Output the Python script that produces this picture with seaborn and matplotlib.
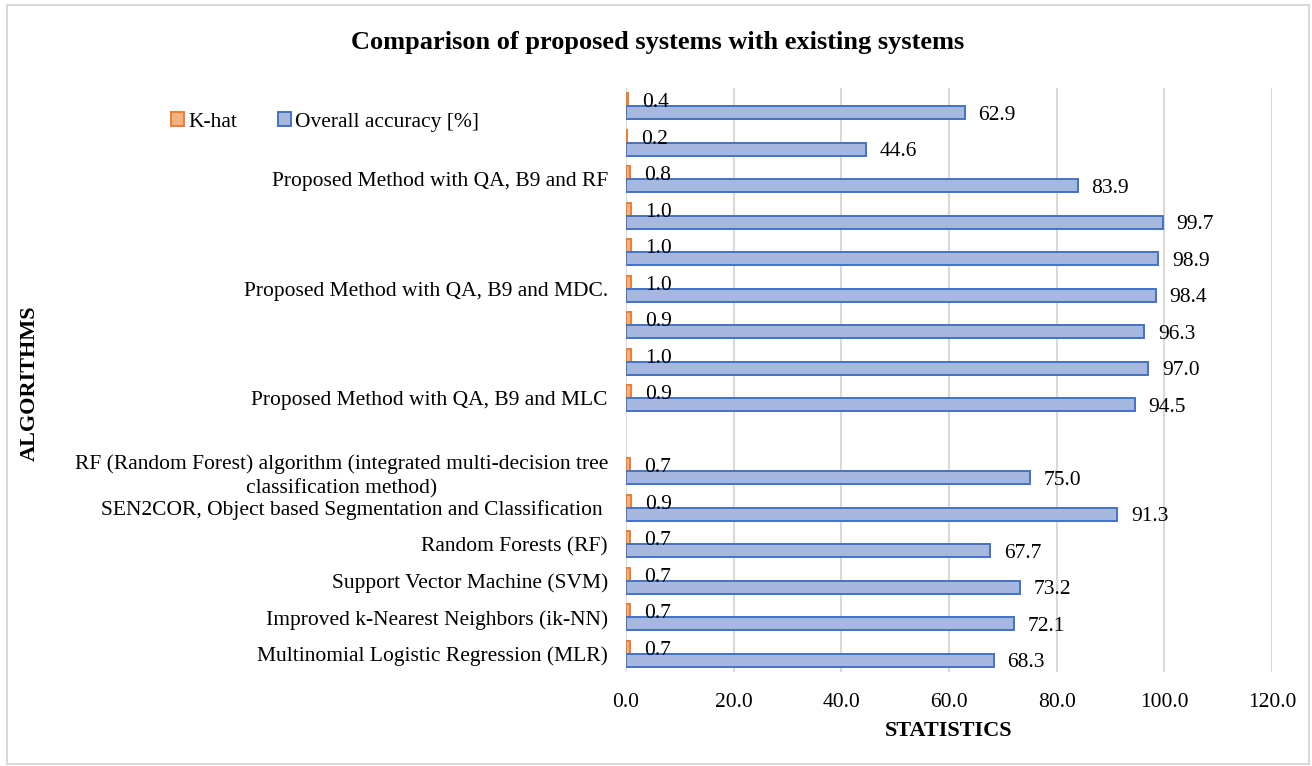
import matplotlib
matplotlib.use("Agg")
import matplotlib.pyplot as plt
import pandas as pd
import seaborn as sns
from matplotlib.patches import Patch, Rectangle

# Categories listed from top to bottom; empty strings are unlabeled rows
algorithms = [
    "",
    "",
    "Proposed Method with QA, B9 and RF",
    "",
    "",
    "Proposed Method with QA, B9 and MDC.",
    "",
    "",
    "Proposed Method with QA, B9 and MLC",
    "",
    "RF (Random Forest) algorithm (integrated multi-decision tree\nclassification method)",
    "SEN2COR, Object based Segmentation and Classification ",
    "Random Forests (RF)",
    "Support Vector Machine (SVM)",
    "Improved k-Nearest Neighbors (ik-NN)",
    "Multinomial Logistic Regression (MLR)",
]
k_hat = [0.4, 0.2, 0.8, 1.0, 1.0, 1.0, 0.9, 1.0, 0.9, None,
         0.7, 0.9, 0.7, 0.7, 0.7, 0.7]
overall_accuracy = [62.9, 44.6, 83.9, 99.7, 98.9, 98.4, 96.3, 97.0, 94.5, None,
                    75.0, 91.3, 67.7, 73.2, 72.1, 68.3]
series_names = ["K-hat", "Overall accuracy [%]"]
x_ticks = [0, 20, 40, 60, 80, 100, 120]

fill_colors = ["#F4B183", "#A7B8E0"]
edge_colors = ["#ED7D31", "#4472C4"]

row_keys = [f"row{i:02d}" for i in range(len(algorithms))]
records = []
for key, kh, oa in zip(row_keys, k_hat, overall_accuracy):
    if kh is not None:
        records.append({"row": key, "series": series_names[0], "value": kh})
    if oa is not None:
        records.append({"row": key, "series": series_names[1], "value": oa})
df = pd.DataFrame(records)

sns.set_theme(style="white")
plt.rcParams["font.family"] = ["Liberation Serif", "DejaVu Serif"]
plt.rcParams["text.color"] = "black"
plt.rcParams["xtick.color"] = "black"
plt.rcParams["ytick.color"] = "black"

FS = 15.5

fig = plt.figure(figsize=(13.12, 7.66), dpi=100)
ax = fig.add_axes([626 / 1312, 1 - 672 / 766, (1272 - 626) / 1312, (672 - 88) / 766])

sns.barplot(
    data=df, y="row", x="value", hue="series",
    order=row_keys, hue_order=series_names,
    orient="h", palette=fill_colors, saturation=1,
    width=0.7, errorbar=None, legend=False, ax=ax,
)

# Outline colours and value labels for each series
for container, edge in zip(ax.containers, edge_colors):
    for bar in container:
        bar.set_edgecolor(edge)
        bar.set_linewidth(1.4)
        w = bar.get_width()
        if w != w:  # skip NaN
            continue
        ax.annotate(
            f"{w:.1f}",
            xy=(w, bar.get_y() + bar.get_height() / 2),
            xytext=(10, -2), textcoords="offset points",
            ha="left", va="center", fontsize=FS, color="black",
        )

ax.set_xlim(0, 120)
ax.set_xticks(x_ticks)
ax.set_xticklabels([f"{t:.1f}" for t in x_ticks], fontsize=FS)
ax.set_yticks(range(len(algorithms)))
ax.set_yticklabels(algorithms, fontsize=FS)
for lbl in ax.get_yticklabels():
    lbl.set_multialignment("center")
    lbl.set_linespacing(1.35)
ax.set_ylim(len(algorithms) - 0.5, -0.5)
ax.tick_params(axis="both", length=0)
ax.tick_params(axis="x", pad=15)
ax.tick_params(axis="y", pad=13)
ax.set_xlabel("")
ax.set_ylabel("")
ax.xaxis.grid(True, color="#D9D9D9", linewidth=1.5)
ax.yaxis.grid(False)
ax.set_axisbelow(True)
for s in ax.spines.values():
    s.set_visible(False)

# Legend
handles = [Patch(facecolor=f, edgecolor=e, linewidth=1.4) for f, e in zip(fill_colors, edge_colors)]
fig.legend(
    handles, series_names, loc="center", bbox_to_anchor=(325 / 1312, 1 - 122 / 766),
    ncol=2, frameon=False, fontsize=FS, handlelength=0.6, handleheight=0.6,
    handletextpad=0.2, columnspacing=1.9,
)

# Titles
fig.text(658 / 1312, 1 - 43 / 766, "Comparison of proposed systems with existing systems",
         ha="center", va="center", fontsize=19, fontweight="bold")
fig.text(949 / 1312, 1 - 731 / 766, "STATISTICS", ha="center", va="center",
         fontsize=16, fontweight="bold")
fig.text(30 / 1312, 1 - 383 / 766, "ALGORITHMS", ha="center", va="center",
         rotation=90, fontsize=16, fontweight="bold")

# Chart area border
fig.patches.append(Rectangle((7 / 1312, 2 / 766), 1302 / 1312, 759 / 766,
                             transform=fig.transFigure, fill=False,
                             edgecolor="#D9D9D9", linewidth=1.5))

fig.savefig("out.png", dpi=100)
